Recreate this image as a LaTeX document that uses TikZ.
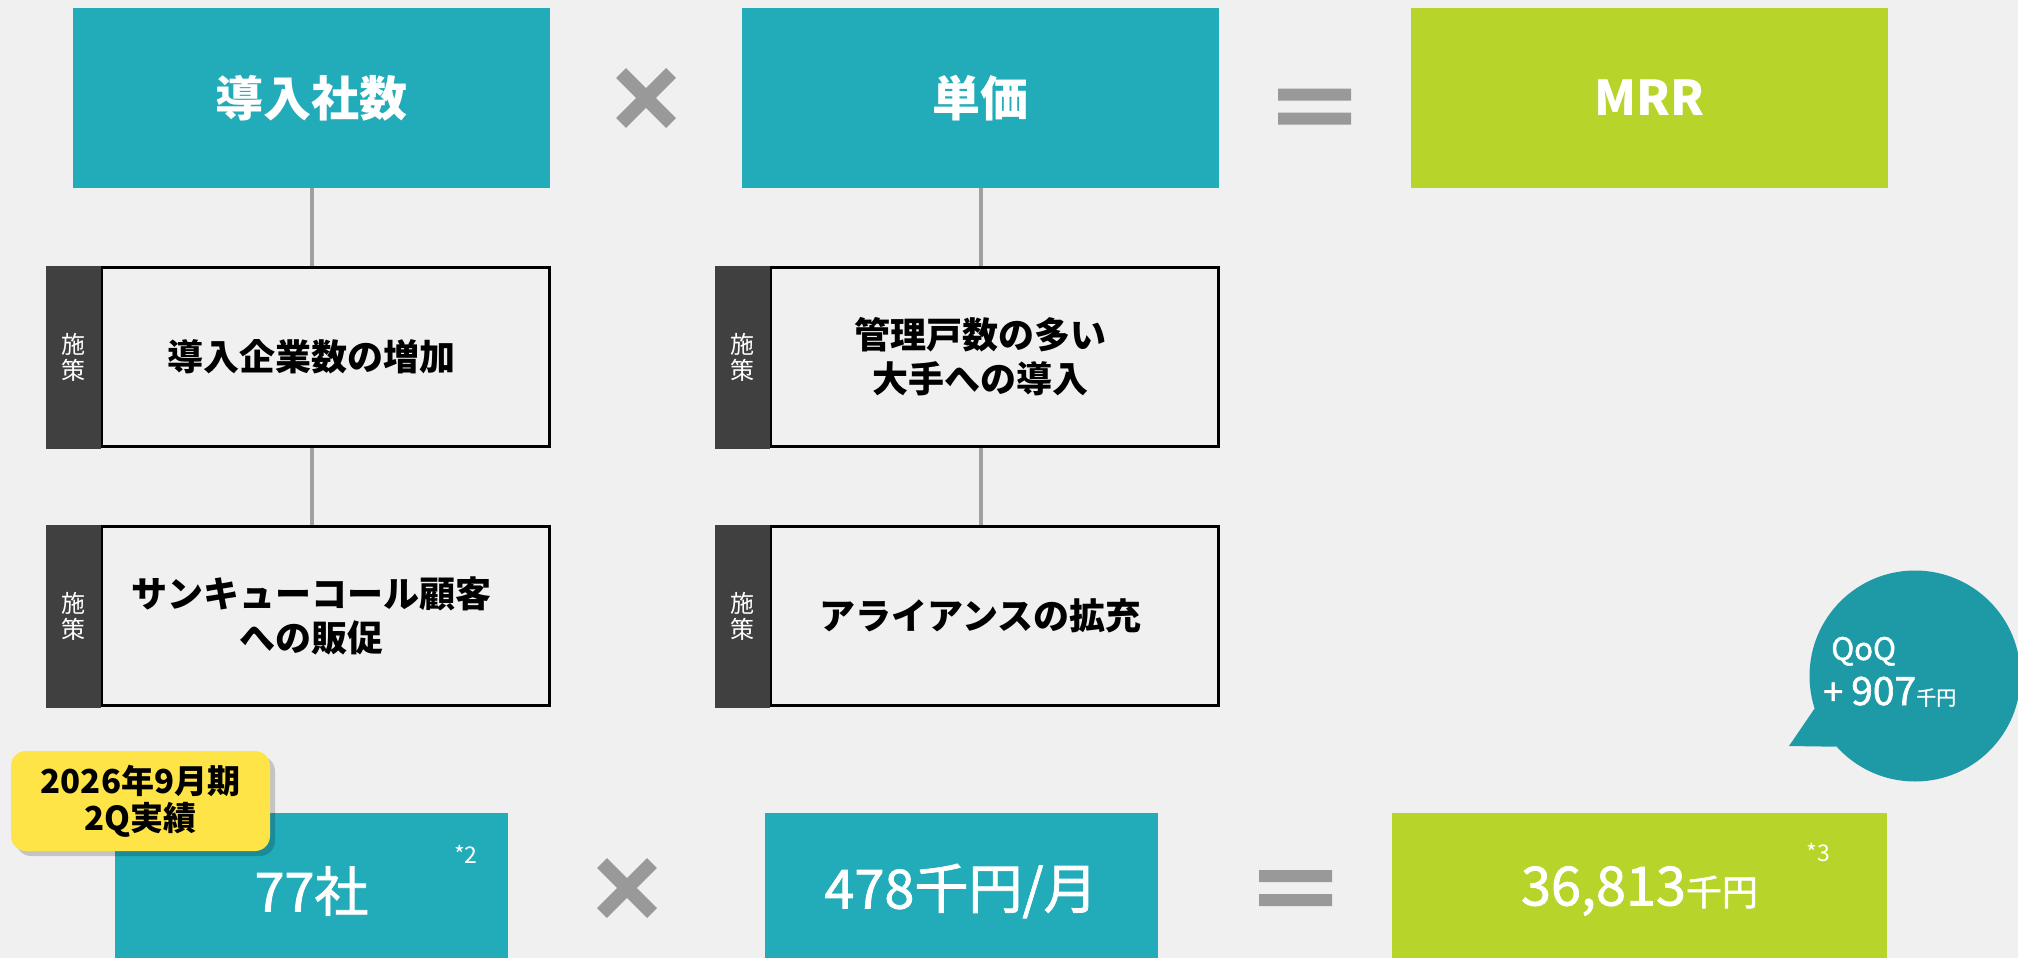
\documentclass[tikz,border=0pt]{standalone}
\usepackage{fontspec}
\setmainfont{Noto Sans CJK JP}
\newfontfamily\medfont{Noto Sans CJK JP}[FakeBold=1.5]
\usepackage{tikz}
\usetikzlibrary{positioning}
\usetikzlibrary{shadows}
\definecolor{bggray}{RGB}{240,240,240}
\definecolor{boxteal}{RGB}{34,171,185}
\definecolor{bubbleteal}{RGB}{30,154,166}
\definecolor{mrrgreen}{RGB}{182,212,41}
\definecolor{tagyellow}{RGB}{255,228,72}
\definecolor{signgray}{RGB}{153,153,153}
\definecolor{linegray}{RGB}{160,160,160}
\definecolor{tagdark}{RGB}{64,64,64}
\tikzset{
    topbox/.style={fill=boxteal, text=white, inner sep=0pt, minimum width=477, minimum height=180,
        font=\bfseries\fontsize{48}{56}\selectfont},
    policybox/.style={draw=black, line width=3pt, fill=bggray, minimum width=448, minimum height=179},
    policytag/.style={fill=tagdark, text=white, inner sep=0pt, minimum width=55, minimum height=183,
        align=center, font=\fontsize{24}{26}\selectfont},
    policytext/.style={align=center, inner sep=0pt, font=\bfseries\fontsize{36}{44}\selectfont},
    stem/.style={linegray, line width=4pt},
    resultbox/.style={fill=boxteal, text=white, inner sep=0pt, minimum width=393, minimum height=156,
        font=\medfont\fontsize{54}{60}\selectfont},
    note/.style={text=white, inner sep=0pt, font=\fontsize{23}{23}\selectfont},
    yellowtag/.style={fill=tagyellow, rounded corners=15pt, minimum width=259, minimum height=100,
        align=center, inner sep=0pt, font=\bfseries\fontsize{33}{37}\selectfont,
        drop shadow={shadow xshift=5pt, shadow yshift=-5pt, opacity=.18, fill=black}},
    bubble/.style={circle, fill=bubbleteal, minimum size=211, inner sep=0pt},
    timesmark/.style={signgray, line width=14pt, line cap=butt}
}

\begin{document}
\begin{tikzpicture}[x=1pt, y=-1pt]
    \fill[bggray](0, 0)rectangle(2018, 958);
    \useasboundingbox(0, 0)rectangle(2018, 958);
    % top row
    \node[topbox] (count) at (311.5, 98) {導入社数};
    \node[topbox] (price) at (980.5, 98) {単価};
    \node[topbox, fill=mrrgreen] (mrr) at (1649.5, 98) {MRR};
    \foreach \cx/\cy in {646/98, 627/888}
        \draw[timesmark](\cx-25, \cy-25)--(\cx+25, \cy+25)(\cx-25, \cy+25)--(\cx+25, \cy-25);
    \foreach \ex/\ey in {1314.5/106.5, 1295.5/888}
        \fill[signgray](\ex-36.5, \ey-18)rectangle(\ex+36.5, \ey-6)(\ex-36.5, \ey+6)rectangle(\ex+36.5, \ey+18);
    % policies
    \node[policybox] (p1) at (325.5, 357) {};
    \node[policybox] (p2) at (325.5, 616) {};
    \node[policybox] (p3) at (994.5, 357) {};
    \node[policybox] (p4) at (994.5, 616) {};
    \foreach \p in {p1, p2, p3, p4}
        \node[policytag, left=-1.5pt of \p] (\p tag) {施\\策};
    \node[policytext] (t1) at (p1 -| count) {導入企業数の増加};
    \node[policytext] (t2) at (p2 -| count) {サンキューコール顧客\\への販促};
    \node[policytext] (t3) at (p3 -| price) {管理戸数の多い\\大手への導入};
    \node[policytext] (t4) at (p4 -| price) {アライアンスの拡充};
    \draw[stem](count)--(p1.north -| count);
    \draw[stem](p1.south -| count)--(p2.north -| count);
    \draw[stem](price)--(p3.north -| price);
    \draw[stem](p3.south -| price)--(p4.north -| price);
    % results
    \node[resultbox] (r1) at (311.5, 891) {77社};
    \node[resultbox] (r2) at (961, 891) {478千円/月};
    \node[resultbox, fill=mrrgreen, minimum width=495] (r3) at (1639.5, 891) {36,813{\fontsize{36}{36}\selectfont 千円}};
    \node[note] (n2) at (466, 854) {*2};
    \node[note] (n3) at (1818, 852) {*3};
    \node[yellowtag] (tag) at (140.5, 801) {2026年9月期\\2Q実績};
    % QoQ bubble
    \node[bubble] (qoq) at (1915, 676) {};
    \fill[bubbleteal](qoq.198)--(1789, 746)--(qoq.222)--cycle;
    \node[text=white, anchor=base west, inner sep=0pt, font=\medfont\fontsize{31}{31}\selectfont] (qoqlabel) at (1831, 660) {QoQ};
    \node[text=white, anchor=base west, inner sep=0pt, font=\medfont\fontsize{36}{36}\selectfont] (qoqvalue) at (1823, 705)
        {+ {\fontsize{39}{39}\selectfont 907}{\fontsize{20}{20}\selectfont 千円}};
\end{tikzpicture}
\end{document}
